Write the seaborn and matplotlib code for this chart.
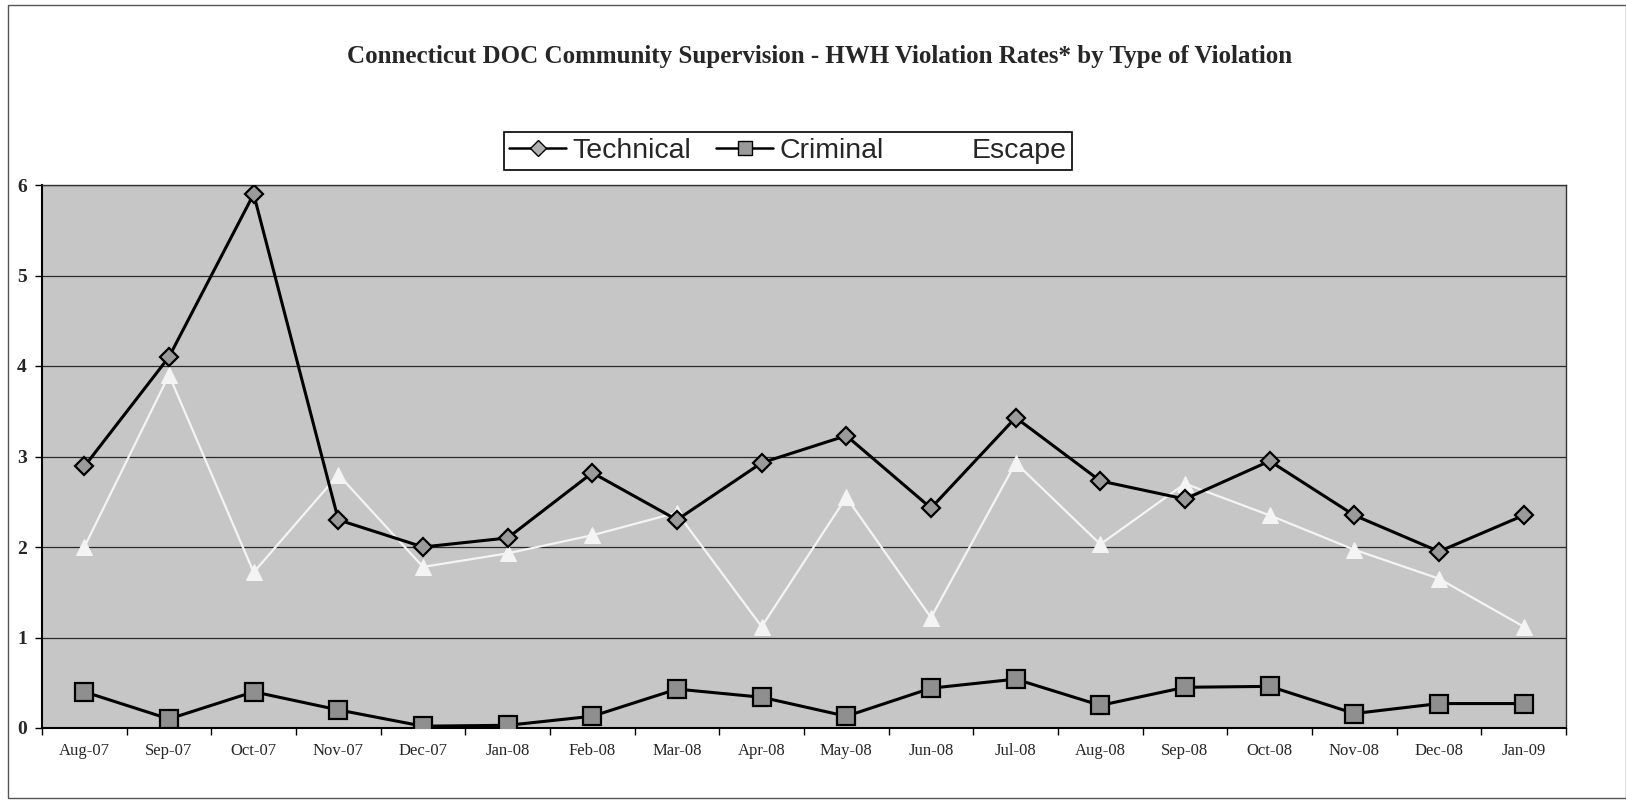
import matplotlib
matplotlib.use("Agg")
import matplotlib.pyplot as plt
from matplotlib.lines import Line2D
from matplotlib.patches import Rectangle
import seaborn as sns
import pandas as pd

months = ["Aug-07", "Sep-07", "Oct-07", "Nov-07", "Dec-07", "Jan-08", "Feb-08", "Mar-08",
          "Apr-08", "May-08", "Jun-08", "Jul-08", "Aug-08", "Sep-08", "Oct-08", "Nov-08",
          "Dec-08", "Jan-09"]
technical = [2.89, 4.1, 5.9, 2.3, 2.0, 2.1, 2.82, 2.3, 2.93, 3.23, 2.43, 3.43, 2.73, 2.53,
             2.95, 2.35, 1.95, 2.35]
criminal = [0.4, 0.1, 0.4, 0.2, 0.02, 0.03, 0.13, 0.43, 0.34, 0.13, 0.44, 0.54, 0.25, 0.45,
            0.46, 0.16, 0.27, 0.27]
escape = [2.0, 3.9, 1.72, 2.8, 1.78, 1.93, 2.13, 2.38, 1.12, 2.55, 1.22, 2.93, 2.03, 2.7,
          2.35, 1.97, 1.65, 1.12]
yticks = [0, 1, 2, 3, 4, 5, 6]
title = "Connecticut DOC Community Supervision - HWH Violation Rates* by Type of Violation"

sns.set_theme(style="white")
plt.rcParams["font.family"] = ["Liberation Serif", "DejaVu Serif"]

fig = plt.figure(figsize=(16.26, 8.01), dpi=100)
ax = fig.add_axes([42 / 1626, 1 - 728 / 801, (1566 - 42) / 1626, (728 - 185) / 801])
ax.set_facecolor("#c6c6c6")

df = pd.DataFrame({"month": months, "Technical": technical,
                   "Criminal": criminal, "Escape": escape})

sns.lineplot(data=df, x="month", y="Escape", ax=ax, sort=False, color="#f4f4f4",
             lw=1.6, marker="^", markersize=11, markerfacecolor="#f4f4f4",
             markeredgecolor="#f4f4f4", zorder=3)
sns.lineplot(data=df, x="month", y="Technical", ax=ax, sort=False, color="black",
             lw=2.2, marker="D", markersize=9, markerfacecolor="#9a9a9a",
             markeredgecolor="black", markeredgewidth=1.6, zorder=4)
sns.lineplot(data=df, x="month", y="Criminal", ax=ax, sort=False, color="black",
             lw=2.2, marker="s", markersize=12.5, markerfacecolor="#8f8f8f",
             markeredgecolor="black", markeredgewidth=1.6, zorder=4)

ax.set_xlim(-0.5, len(months) - 0.5)
ax.set_ylim(0, 6)
ax.set_yticks(yticks)
ax.set_yticklabels([str(v) for v in yticks], fontweight="bold", fontsize=14)
ax.set_xticks(range(len(months)))
ax.set_xticklabels(months, fontsize=12)
ax.tick_params(axis="x", length=0, pad=11)
ax.set_xticks([i - 0.5 for i in range(len(months) + 1)], minor=True)
ax.tick_params(axis="x", which="minor", direction="out", length=5, width=1, color="black",
               bottom=True)
ax.tick_params(axis="y", direction="out", length=5, width=1, color="black", left=True, pad=6)
ax.set_xlabel("")
ax.set_ylabel("")

for v in yticks[1:]:
    ax.axhline(v, color="#2a2a2a", lw=0.9, zorder=1)
ax.grid(False)

for side in ["left", "bottom"]:
    ax.spines[side].set_color("black")
    ax.spines[side].set_linewidth(1.5)
ax.spines["top"].set_color("#333333")
ax.spines["top"].set_linewidth(1.0)
ax.spines["right"].set_color("#333333")
ax.spines["right"].set_linewidth(1.0)
ax.spines["right"].set_linestyle((0, (2, 1)))

fig.text(0.504, 1 - 56 / 801, title, ha="center", va="center", fontsize=18,
         fontweight="bold", family=["Liberation Serif", "DejaVu Serif"])

handles = [
    Line2D([0], [0], color="black", lw=1.8, marker="D", markersize=8,
           markerfacecolor="#b0b0b0", markeredgecolor="black"),
    Line2D([0], [0], color="black", lw=1.8, marker="s", markersize=10,
           markerfacecolor="#9a9a9a", markeredgecolor="black"),
    Line2D([0], [0], color="white", lw=1.8, marker="^", markersize=9,
           markerfacecolor="white", markeredgecolor="white"),
]
leg = fig.legend(handles, ["Technical", "Criminal", "Escape"], loc="center",
                 bbox_to_anchor=(0.4846, 1 - 151 / 801), ncol=3, frameon=True,
                 fancybox=False, edgecolor="black", framealpha=1,
                 prop={"family": ["Liberation Sans", "DejaVu Sans"], "size": 20.5},
                 handlelength=2.0, handletextpad=0.2, columnspacing=0.9,
                 borderpad=0.2)
leg.get_frame().set_linewidth(1.2)

fig.patches.append(Rectangle((8 / 1626, 3 / 801), (1626 - 8) / 1626, (798 - 5) / 801,
                             transform=fig.transFigure, fill=False,
                             edgecolor="#555555", lw=1.0))

fig.savefig("out.png", dpi=100)
